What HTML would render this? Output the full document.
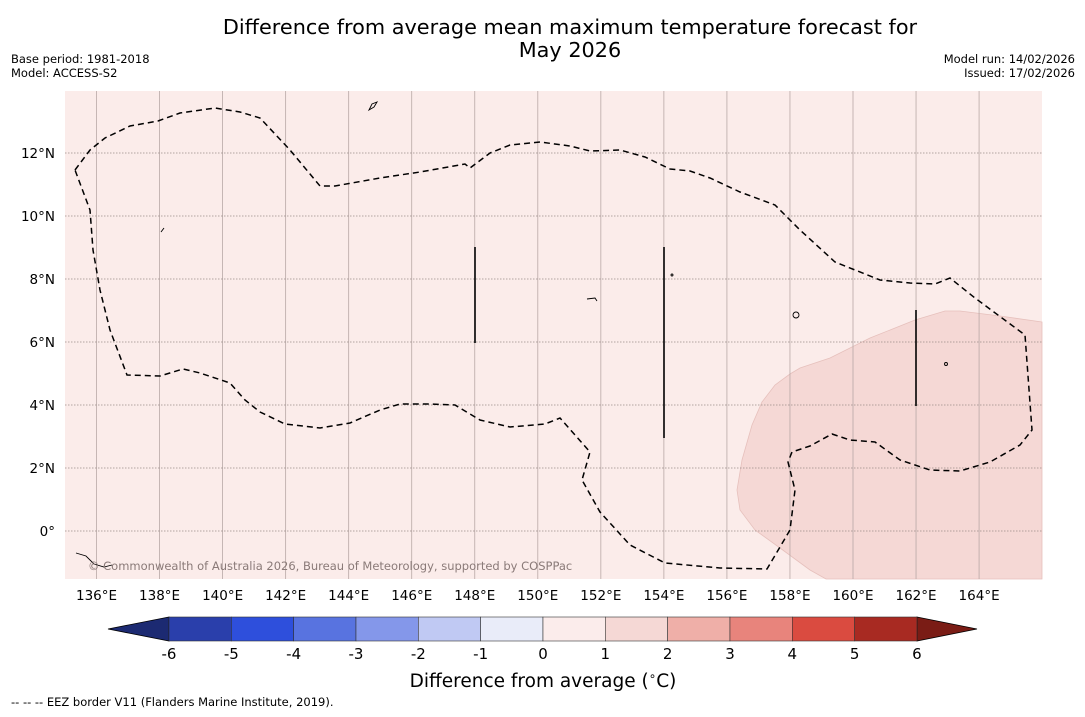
<!DOCTYPE html>
<html><head><meta charset="utf-8"><style>
body{margin:0;background:#fff;width:1085px;height:713px;overflow:hidden;font-family:"DejaVu Sans","Liberation Sans",sans-serif}
</style></head><body>
<svg id="chart" width="1085" height="713" xmlns="http://www.w3.org/2000/svg" font-family="DejaVu Sans, Liberation Sans, sans-serif">
<text x="570" y="34" font-size="20.8" text-anchor="middle" fill="#000">Difference from average mean maximum temperature forecast for</text>
<text x="570" y="57" font-size="20.8" text-anchor="middle" fill="#000">May 2026</text>
<text x="11" y="63" font-size="11.5">Base period: 1981-2018</text>
<text x="11" y="77" font-size="11.5">Model: ACCESS-S2</text>
<text x="1075" y="63" font-size="11.5" text-anchor="end">Model run: 14/02/2026</text>
<text x="1075" y="77" font-size="11.5" text-anchor="end">Issued: 17/02/2026</text>
<g id="map">
<rect x="65" y="91" width="977" height="488" fill="#fbecea"/>
<polygon fill="#f5d8d5" stroke="#e6c0bc" stroke-width="0.8" points="1042,322 1000,316 960,311 945,311 915,320 870,338 830,358 800,368 790,374 775,385 762,402 752,425 742,460 737,490 740,510 755,530 780,548 810,570 826,579 1042,579"/>
<g id="grid"></g>
<polyline fill="none" stroke="#000" stroke-width="1.5" stroke-dasharray="6,4" points="75,170 90,150 105,138 130,126 158,121 180,113 215,108 240,112 260,118 290,150 320,186 335,186 380,178 420,172 465,164 470,168 490,153 510,145 540,142 570,146 590,151 620,150 645,157 670,169 690,171 710,178 740,192 775,205 800,230 835,262 880,280 910,283 935,284 950,278 975,298 1025,335 1032,430 1020,445 990,462 960,471 930,470 900,460 875,442 850,440 832,434 810,446 792,452 788,462 795,490 790,530 767,569 720,568 665,563 630,545 600,512 582,480 590,452 575,435 560,418 545,424 510,427 480,420 455,405 430,404 400,404 380,410 350,423 320,428 285,424 260,412 245,400 230,383 200,373 183,369 160,376 127,375 110,330 100,290 93,250 90,210 75,170"/>
<g stroke="#000" stroke-width="1.6">
<line x1="475" y1="247" x2="475" y2="343"/><line x1="664" y1="247" x2="664" y2="438"/><line x1="916" y1="310" x2="916" y2="406"/>
</g>
<g fill="none" stroke="#000" stroke-width="0.9">
<path d="M369,110 l3,-6 l5,-2 l-3,5 z"/><path d="M161,232 l3,-4"/><path d="M587,299 l8,-1 l2,3"/><circle cx="796" cy="315" r="3"/><circle cx="946" cy="364" r="1.5"/><path d="M76,553 l10,3 l8,8 l10,3 l8,-2"/><circle cx="672" cy="275" r="1"/>
</g>
<text x="88" y="570" font-size="11.5" fill="#8a7a78">© Commonwealth of Australia 2026, Bureau of Meteorology, supported by COSPPac</text>
</g>
<g id="axes"></g>
<g id="colorbar"></g>
<text x="543" y="687" font-size="18.5" text-anchor="middle">Difference from average (<tspan font-size="12" dy="-7">∘</tspan><tspan dy="7">C)</tspan></text>
<text x="11" y="706" font-size="11.5">--  --  -- EEZ border V11 (Flanders Marine Institute, 2019).</text>
</svg>
<script>
const lonTicks=[136,138,140,142,144,146,148,150,152,154,156,158,160,162,164];
const latTicks=[0,2,4,6,8,10,12];
const cbLevels=[-6,-5,-4,-3,-2,-1,0,1,2,3,4,5,6];
const cbColors=["#2a3fab","#2e4fdc","#5873e0","#8497ea","#c0c9f3","#e9ecf9","#fbeceb","#f5d8d5","#efafa8","#e8847c","#da4b40","#a82a22"];
const NS="http://www.w3.org/2000/svg";
const xLon=l=>65+(l-135)*31.52;
const yLat=l=>531-l*31.5;
function mk(t,a,p){const e=document.createElementNS(NS,t);for(const k in a)e.setAttribute(k,a[k]);p.appendChild(e);return e;}
const grid=document.getElementById('grid'),axes=document.getElementById('axes');
lonTicks.forEach(l=>{const x=xLon(l);
 const g=mk('line',{x1:x,y1:91,x2:x,y2:579,stroke:'#b8a8a6','stroke-width':0.8},grid);
 
 
 const t=mk('text',{x:x,y:600,'font-size':13.5,'text-anchor':'middle'},axes);t.textContent=l+'°E';
 
 
});
latTicks.forEach(l=>{const y=yLat(l);
 const g=mk('line',{x1:65,y1:y,x2:1042,y2:y,stroke:'#9a8a88','stroke-width':0.8,'stroke-dasharray':'1.5,1.5'},grid);
 
 
 const t=mk('text',{x:55,y:y+5,'font-size':13.5,'text-anchor':'end'},axes);t.textContent=l===0?'0°':l+'°N';
 
 
});
const cb=document.getElementById('colorbar');
const cx=v=>169+(v+6)*62.33, cy0=617, cy1=641;
mk('polygon',{points:`${cx(-6)},${cy0} 108,629 ${cx(-6)},${cy1}`,fill:'#1c2a72',stroke:'#000','stroke-width':0.8},cb);
mk('polygon',{points:`${cx(6)},${cy0} 977,629 ${cx(6)},${cy1}`,fill:'#7a1c15',stroke:'#000','stroke-width':0.8},cb);
cbColors.forEach((c,i)=>{
 const r=mk('rect',{x:cx(cbLevels[i]),y:cy0,width:cx(cbLevels[i+1])-cx(cbLevels[i]),height:cy1-cy0,fill:c,stroke:'#333','stroke-width':0.6},cb);
 
 
});
cbLevels.forEach(v=>{
 const t=mk('text',{x:cx(v),y:659,'font-size':15,'text-anchor':'middle'},cb);t.textContent=v;
 
 
});
</script>
</body></html>
